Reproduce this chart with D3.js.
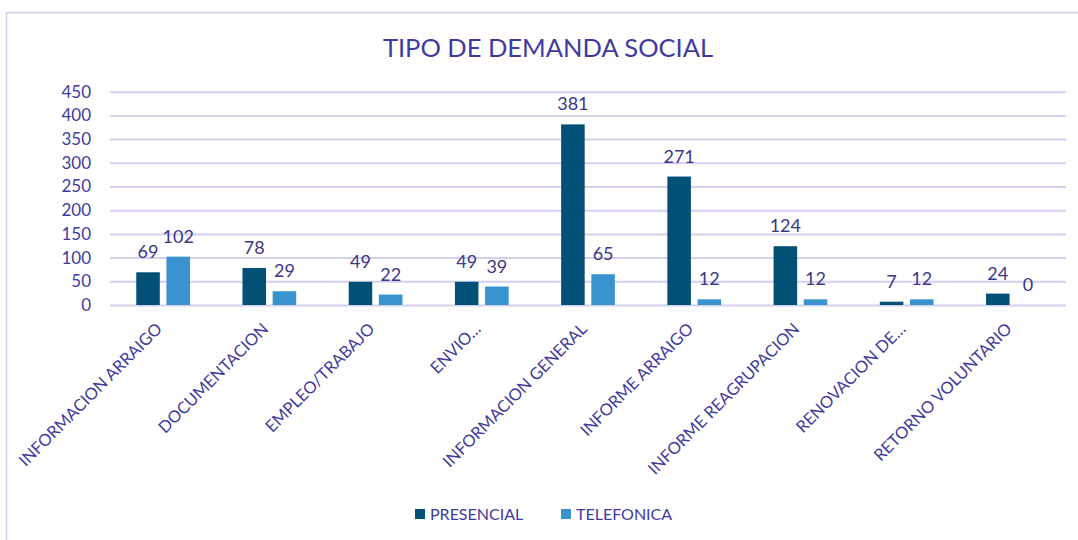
<!DOCTYPE html>
<html><head><meta charset="utf-8">
<script src="https://cdn.jsdelivr.net/npm/d3@7"></script>
<style>body{margin:0;background:#fff}svg{display:block}text{font-family:Lato,"Open Sans",sans-serif}</style>
</head><body><svg id="c" width="1078" height="540"></svg>
<script>
const categories = ["INFORMACION ARRAIGO","DOCUMENTACION","EMPLEO/TRABAJO","ENVIO…","INFORMACION GENERAL","INFORME ARRAIGO","INFORME REAGRUPACION","RENOVACION DE…","RETORNO VOLUNTARIO"];
const seriesNames = ["PRESENCIAL","TELEFONICA"];
const presencial = [69,78,49,49,381,271,124,7,24];
const telefonica = [102,29,22,39,65,12,12,12,0];
const yTicks = [0,50,100,150,200,250,300,350,400,450];
const colors = ["#025075","#3893cf"];
const textColor = "#3f3b9e";
const gridColor = "#d3d0ee";

const svg = d3.select("#c");
svg.append("path").attr("d","M6.5,540 V12.5 H1078").attr("fill","none").attr("stroke",gridColor).attr("stroke-width",1.5);

const x0 = d3.scaleBand().domain(categories).range([110,1066]);
const x1 = d3.scaleBand().domain(seriesNames).range([0,x0.bandwidth()]).paddingInner(0.22).paddingOuter(0.87);
const y = d3.scaleLinear().domain([0,450]).range([305,91.7]);

svg.append("text").attr("x",548).attr("y",57).attr("text-anchor","middle").attr("font-size",25.5).attr("fill",textColor).text("TIPO DE DEMANDA SOCIAL");

const yAxis = svg.append("g").attr("transform","translate(110,0)").call(d3.axisLeft(y).tickValues(yTicks).tickSize(-956).tickPadding(19));
yAxis.select(".domain").remove();
yAxis.selectAll(".tick line").attr("stroke",gridColor).attr("stroke-width",2);
yAxis.selectAll(".tick text").attr("fill",textColor).attr("font-size",17).style("font-family","Lato");

const data = categories.map((c,i)=>({c, vals:[presencial[i],telefonica[i]]}));
const g = svg.selectAll(".grp").data(data).enter().append("g").attr("transform",d=>`translate(${x0(d.c)},0)`);
g.selectAll("rect").data(d=>d.vals.map((v,j)=>({v,s:seriesNames[j],j}))).enter().append("rect")
 .attr("x",d=>x1(d.s)).attr("width",x1.bandwidth()).attr("y",d=>y(d.v)).attr("height",d=>y(0)-y(d.v)).attr("fill",d=>colors[d.j]);
g.selectAll(".lbl").data(d=>d.vals.map((v,j)=>({v,s:seriesNames[j],j}))).enter().append("text")
 .attr("x",d=>x1(d.s)+x1.bandwidth()/2).attr("y",d=>y(d.v)-14).attr("text-anchor","middle").attr("font-size",18).attr("fill","#3b3789").text(d=>d.v);

svg.selectAll(".xl").data(categories).enter().append("text")
 .attr("transform",d=>`translate(${x0(d)+x0.bandwidth()/2},330) rotate(-45)`)
 .attr("text-anchor","end").attr("font-size",16.5).attr("fill",textColor).text(d=>d);

const leg = svg.append("g");
const lx = [415,561];
seriesNames.forEach((s,i)=>{
  leg.append("rect").attr("x",lx[i]).attr("y",509).attr("width",10).attr("height",10).attr("fill",colors[i]);
  leg.append("text").attr("x",lx[i]+15).attr("y",520).attr("font-size",16).attr("fill",textColor).text(s);
});
</script></body></html>
